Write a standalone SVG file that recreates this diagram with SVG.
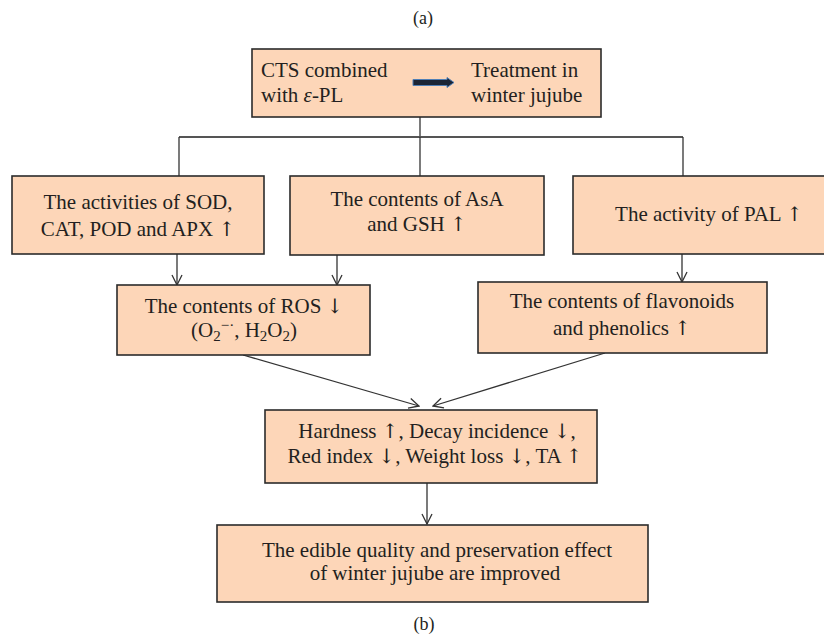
<svg xmlns="http://www.w3.org/2000/svg" width="824" height="636" viewBox="0 0 824 636">
<defs>
<style>
.box{fill:#FDD6B8;stroke:#2b2b2b;stroke-width:1.6}
.t{font-family:"Liberation Serif","Times New Roman",serif;font-size:21px;fill:#231f20}
.c{text-anchor:middle}
.ar{font-family:"DejaVu Serif",serif;font-size:20px;fill:#231f20}
.ln{fill:none;stroke:#333;stroke-width:1.3}
.br{fill:none;stroke:#555;stroke-width:2}
.lab{font-family:"Liberation Serif","Times New Roman",serif;font-size:18px;fill:#231f20;text-anchor:middle}
</style>
<marker id="ah" viewBox="0 0 12 12" refX="11" refY="6" markerWidth="12" markerHeight="12" markerUnits="userSpaceOnUse" orient="auto">
<path d="M1,1 L11,6 L1,11" fill="none" stroke="#333" stroke-width="1.3"/>
</marker>
</defs>
<rect width="824" height="636" fill="#fff"/>
<text class="lab" x="423" y="24">(a)</text>
<text class="lab" x="424" y="630">(b)</text>

<g id="connectors">
<line class="ln" x1="420" y1="117" x2="420" y2="137"/>
<line class="br" x1="179" y1="137" x2="683" y2="137"/>
<line class="ln" x1="179" y1="137" x2="179" y2="176"/>
<line class="ln" x1="420" y1="137" x2="420" y2="176"/>
<line class="ln" x1="683" y1="137" x2="683" y2="176"/>
<line class="ln" x1="177" y1="254" x2="177" y2="285" marker-end="url(#ah)"/>
<line class="ln" x1="337" y1="255" x2="337" y2="285" marker-end="url(#ah)"/>
<line class="ln" x1="682" y1="254" x2="682" y2="282" marker-end="url(#ah)"/>
<line class="ln" x1="243" y1="355" x2="419" y2="406" marker-end="url(#ah)"/>
<line class="ln" x1="605" y1="353" x2="433" y2="406" marker-end="url(#ah)"/>
<line class="ln" x1="427" y1="483" x2="427" y2="524" marker-end="url(#ah)"/>
</g>

<g id="top">
<rect class="box" x="252" y="49" width="349" height="68"/>
<text class="t" x="261" y="77">CTS combined</text>
<text class="t" x="261" y="102">with <tspan font-style="italic">ε</tspan>-PL</text>
<text class="t" x="471" y="77">Treatment in</text>
<text class="t" x="471" y="102">winter jujube</text>
<polygon points="413,79.5 447,79.5 447,77.5 454,82.5 447,87.5 447,85.5 413,85.5" fill="#1b2535" stroke="#4f7fb5" stroke-width="1"/>
</g>

<g id="enzymes">
<rect class="box" x="12" y="176" width="252" height="78"/>
<text class="t c" x="138" y="209">The activities of SOD,</text>
<text class="t c" x="138" y="236">CAT, POD and APX <tspan class="ar">↑</tspan></text>
</g>

<g id="asa">
<rect class="box" x="290" y="176" width="254" height="79"/>
<text class="t c" x="417" y="206">The contents of AsA</text>
<text class="t c" x="417" y="231">and GSH <tspan class="ar">↑</tspan></text>
</g>

<g id="pal">
<rect class="box" x="573" y="176" width="252" height="78"/>
<text class="t c" x="709" y="221">The activity of PAL <tspan class="ar">↑</tspan></text>
</g>

<g id="ros">
<rect class="box" x="117" y="285" width="253" height="70"/>
<text class="t c" x="244" y="313">The contents of ROS <tspan class="ar">↓</tspan></text>
<text class="t c" x="244" y="337">(O<tspan font-size="15" dy="4">2</tspan><tspan font-size="15" dy="-11">−·</tspan><tspan dy="7">, H</tspan><tspan font-size="15" dy="4">2</tspan><tspan dy="-4">O</tspan><tspan font-size="15" dy="4">2</tspan><tspan dy="-4">)</tspan></text>
</g>

<g id="flav">
<rect class="box" x="478" y="282" width="289" height="71"/>
<text class="t c" x="622" y="308">The contents of flavonoids</text>
<text class="t c" x="622" y="335">and phenolics <tspan class="ar">↑</tspan></text>
</g>

<g id="quality">
<rect class="box" x="265" y="410" width="332" height="73"/>
<text class="t c" x="437" y="438">Hardness <tspan class="ar">↑</tspan>, Decay incidence <tspan class="ar">↓</tspan>,</text>
<text class="t c" x="435" y="463">Red index <tspan class="ar">↓</tspan>, Weight loss <tspan class="ar">↓</tspan>, TA <tspan class="ar">↑</tspan></text>
</g>

<g id="result">
<rect class="box" x="217" y="525" width="431" height="77"/>
<text class="t c" x="437" y="557">The edible quality and preservation effect</text>
<text class="t c" x="435" y="580">of winter jujube are improved</text>
</g>
</svg>
